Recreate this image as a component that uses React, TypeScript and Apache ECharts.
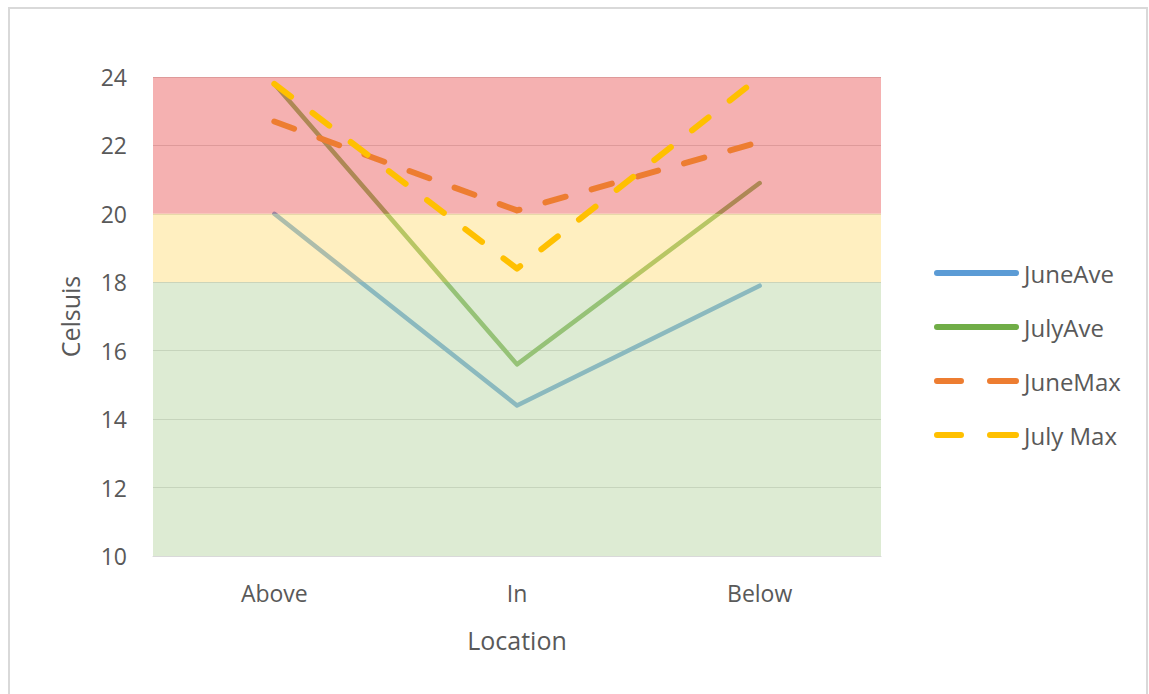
import React, { useEffect, useRef } from "react";
import * as echarts from "echarts";

const categories = ["Above", "In", "Below"];
const juneAve = [20.0, 14.4, 17.9];
const julyAve = [23.8, 15.6, 20.9];
const juneMax = [22.7, 20.1, 22.1];
const julyMax = [23.8, 18.4, 24.0];
const legendNames = ["JuneAve", "JulyAve", "JuneMax", "July Max"];
const bands = [
  { from: 20, to: 24, color: "rgba(235,99,99,0.5)" },
  { from: 18, to: 20, color: "rgba(255,223,129,0.5)" },
  { from: 10, to: 18, color: "rgba(187,215,167,0.5)" },
];

const FONT = "'Open Sans', sans-serif";
const TXT = "#595959";
const SOLID_ICON = "path://M3,0H82A3,3 0 0 1 82,6H3A3,3 0 0 1 3,0Z";
const DASH_ICON = "path://M3,0H27A3,3 0 0 1 27,6H3A3,3 0 0 1 3,0ZM56,0H82A3,3 0 0 1 82,6H56A3,3 0 0 1 56,0Z";

export default function App() {
  const ref = useRef<HTMLDivElement>(null);
  useEffect(() => {
    if (!ref.current) return;
    const chart = echarts.init(ref.current, null, { renderer: "svg" });
    const solid = (name: string, data: number[], color: string, z: number) => ({
      name,
      type: "line",
      data,
      z,
      symbol: "none",
      itemStyle: { color },
      lineStyle: { color, width: 4.5, cap: "round", join: "round" },
    });
    const dashed = (name: string, data: number[], color: string, z: number) => ({
      name,
      type: "line",
      data,
      z,
      symbol: "none",
      itemStyle: { color },
      lineStyle: { color, width: 6, type: [21, 27], cap: "round", join: "round" },
    });
    chart.setOption({
      animation: false,
      backgroundColor: "#ffffff",
      textStyle: { fontFamily: FONT },
      graphic: [
        {
          type: "rect",
          shape: { x: 9, y: 8, width: 1138, height: 720 },
          style: { fill: "none", stroke: "#d9d9d9", lineWidth: 2 },
          silent: true,
        },
      ],
      grid: { left: 153, right: 268, top: 77, bottom: 138 },
      legend: {
        orient: "vertical",
        left: 929,
        top: 253,
        itemWidth: 85,
        itemHeight: 6,
        itemGap: 24,
        data: legendNames.map((n, i) => ({ name: n, icon: i < 2 ? SOLID_ICON : DASH_ICON })),
        textStyle: { color: TXT, fontSize: 24, lineHeight: 30, fontFamily: FONT },
      },
      xAxis: {
        type: "category",
        data: categories,
        boundaryGap: true,
        axisLine: { show: true, lineStyle: { color: "#d9d9d9" } },
        axisTick: { show: false },
        axisLabel: { color: TXT, fontSize: 23, margin: 25, fontFamily: FONT },
        name: "Location",
        nameLocation: "middle",
        nameGap: 71,
        nameTextStyle: { color: TXT, fontSize: 25, fontFamily: FONT },
      },
      yAxis: {
        type: "value",
        min: 10,
        max: 24,
        interval: 2,
        axisLine: { show: false },
        axisTick: { show: false },
        axisLabel: { color: TXT, fontSize: 23, margin: 26, fontFamily: FONT },
        splitLine: { lineStyle: { color: "#d0d0d0", width: 1 } },
        name: "Celsuis",
        nameLocation: "middle",
        nameGap: 71,
        nameTextStyle: { color: TXT, fontSize: 25, fontFamily: FONT },
      },
      series: [
        solid("JuneAve", juneAve, "#5B9BD5", 1),
        solid("JulyAve", julyAve, "#70AD47", 1),
        {
          name: "bands",
          type: "line",
          data: [],
          z: 2,
          silent: true,
          symbol: "none",
          markArea: {
            silent: true,
            z: 2,
            data: bands.map((b) => [
              { yAxis: b.from, itemStyle: { color: b.color } },
              { yAxis: b.to },
            ]),
          },
        },
        dashed("JuneMax", juneMax, "#ED7D31", 3),
        dashed("July Max", julyMax, "#FFC000", 3),
      ],
    });
    return () => chart.dispose();
  }, []);
  return (
    <div style={{ position: "fixed", left: 0, top: 0, width: 1149, height: 694, overflow: "hidden" }}>
      <div ref={ref} style={{ width: 1149, height: 694 }} />
    </div>
  );
}
